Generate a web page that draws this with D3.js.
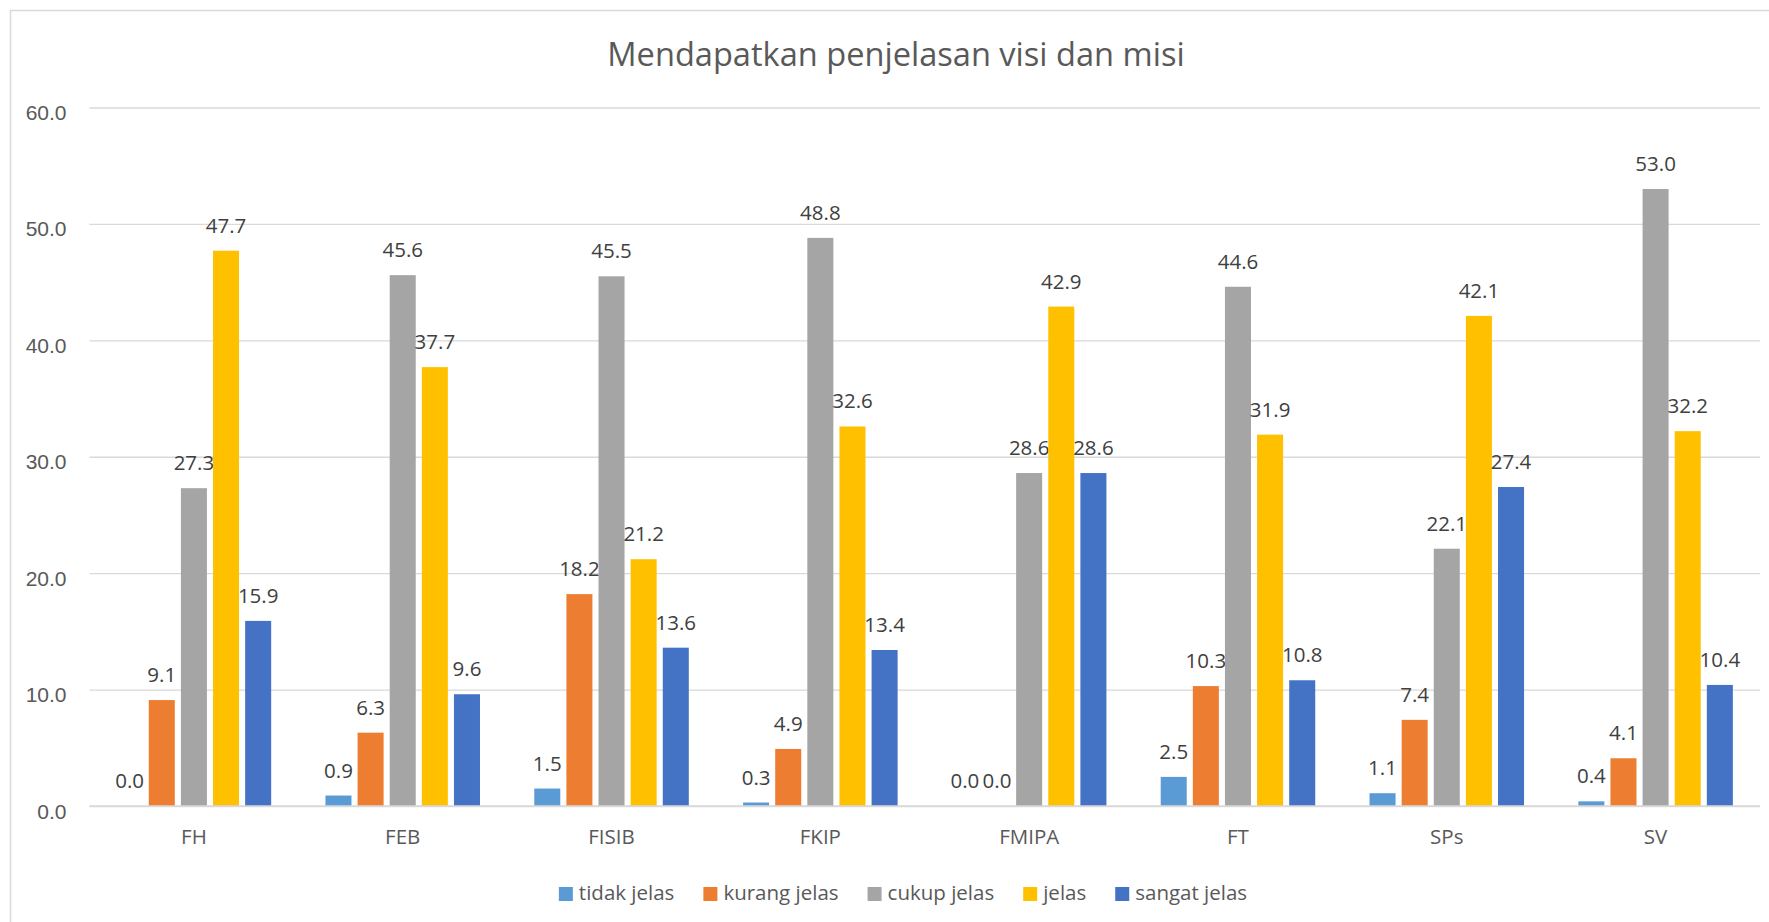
<!DOCTYPE html>
<html>
<head>
<meta charset="utf-8">
<script src="https://cdn.jsdelivr.net/npm/d3@7"></script>
<style>
  html, body { margin: 0; padding: 0; background: #fff; }
  svg { display: block; font-family: "Open Sans", sans-serif; }
  .grid line { stroke: #d9d9d9; stroke-width: 1.3; }
  .grid text { fill: #595959; font-size: 21px; }
</style>
</head>
<body>
<svg id="chart"></svg>
<script>
const categories   = ["FH", "FEB", "FISIB", "FKIP", "FMIPA", "FT", "SPs", "SV"];
const seriesNames  = ["tidak jelas", "kurang jelas", "cukup jelas", "jelas", "sangat jelas"];
const tidakJelas   = [0.0, 0.9, 1.5, 0.3, 0.0, 2.5, 1.1, 0.4];
const kurangJelas  = [9.1, 6.3, 18.2, 4.9, 0.0, 10.3, 7.4, 4.1];
const cukupJelas   = [27.3, 45.6, 45.5, 48.8, 28.6, 44.6, 22.1, 53.0];
const jelas        = [47.7, 37.7, 21.2, 32.6, 42.9, 31.9, 42.1, 32.2];
const sangatJelas  = [15.9, 9.6, 13.6, 13.4, 28.6, 10.8, 27.4, 10.4];
const yTicks       = [0, 10, 20, 30, 40, 50, 60];
const seriesColors = ["#5b9bd5", "#ed7d31", "#a5a5a5", "#ffc000", "#4472c4"];
const title        = "Mendapatkan penjelasan visi dan misi";

const WIDTH  = 1769;
const HEIGHT = 922;
const PLOT   = { left: 89.5, right: 1760, top: 107.5, bottom: 806 };
const CENTER = 896;
const LEGEND_CENTER = 903;

const seriesValues = [tidakJelas, kurangJelas, cukupJelas, jelas, sangatJelas];

const svg = d3.select("#chart")
  .attr("width", WIDTH)
  .attr("height", HEIGHT);

// chart frame (right and bottom edges fall outside the window)
svg.append("rect")
  .attr("x", 10.5).attr("y", 10.5)
  .attr("width", 1772).attr("height", 940)
  .attr("fill", "#fff")
  .attr("stroke", "#d9d9d9")
  .attr("stroke-width", 1.5);

// title
svg.append("text")
  .attr("x", CENTER)
  .attr("y", 66)
  .attr("text-anchor", "middle")
  .style("font-size", "32.6px")
  .style("fill", "#595959")
  .text(title);

const x0 = d3.scaleBand()
  .domain(categories)
  .range([PLOT.left, PLOT.right])
  .padding(0);

const x1 = d3.scaleBand()
  .domain(seriesNames)
  .range([0, x0.bandwidth()])
  .paddingInner(0.19)
  .paddingOuter(0.845);

const y = d3.scaleLinear()
  .domain([0, 60])
  .range([PLOT.bottom, PLOT.top]);

// gridlines + y labels
const yAxisGrid = d3.axisLeft(y)
  .tickValues(yTicks)
  .tickSize(-(PLOT.right - PLOT.left))
  .tickPadding(23)
  .tickFormat(d3.format(".1f"));

const gy = svg.append("g")
  .attr("class", "grid")
  .attr("transform", "translate(" + PLOT.left + ",0)")
  .call(yAxisGrid);
gy.select(".domain").remove();
gy.selectAll("text").attr("dy", "12px");

// bars
const groups = svg.append("g")
  .selectAll("g")
  .data(categories)
  .join("g")
  .attr("transform", d => "translate(" + x0(d) + ",0)");

const cells = groups.selectAll("g")
  .data((c, i) => seriesNames.map((s, k) => ({ series: s, k: k, value: seriesValues[k][i] })))
  .join("g");

cells.append("rect")
  .attr("x", d => x1(d.series))
  .attr("y", d => y(d.value))
  .attr("width", x1.bandwidth())
  .attr("height", d => y(0) - y(d.value))
  .attr("fill", d => seriesColors[d.k]);

cells.append("text")
  .attr("x", d => x1(d.series) + x1.bandwidth() / 2)
  .attr("y", d => y(d.value) - 18)
  .attr("text-anchor", "middle")
  .style("font-size", "20.5px")
  .style("fill", "#404040")
  .text(d => d3.format(".1f")(d.value));

// baseline
svg.append("line")
  .attr("x1", PLOT.left).attr("x2", PLOT.right)
  .attr("y1", y(0)).attr("y2", y(0))
  .attr("stroke", "#d9d9d9")
  .attr("stroke-width", 1.5);

// category labels
const xAxis = d3.axisBottom(x0).tickSize(0).tickPadding(0);
const gx = svg.append("g")
  .attr("transform", "translate(0," + y(0) + ")")
  .call(xAxis);
gx.select(".domain").remove();
gx.selectAll("text")
  .attr("y", 38)
  .attr("dy", 0)
  .style("font-size", "20.5px")
  .style("font-family", "'Open Sans', sans-serif")
  .style("fill", "#595959");

// legend
const legend = svg.append("g");
const items = legend.selectAll("g")
  .data(seriesNames)
  .join("g");

items.append("rect")
  .attr("width", 14).attr("height", 14)
  .attr("y", 887)
  .attr("fill", (d, i) => seriesColors[i]);

items.append("text")
  .attr("x", 20)
  .attr("y", 900)
  .style("font-size", "20.5px")
  .style("fill", "#595959")
  .text(d => d);

let cursor = 0;
items.each(function () {
  const w = this.querySelector("text").getComputedTextLength();
  d3.select(this).attr("transform", "translate(" + cursor + ",0)");
  cursor += 20 + w + 29;
});
const total = cursor - 29;
legend.attr("transform", "translate(" + (LEGEND_CENTER - total / 2) + ",0)");
</script>
</body>
</html>
